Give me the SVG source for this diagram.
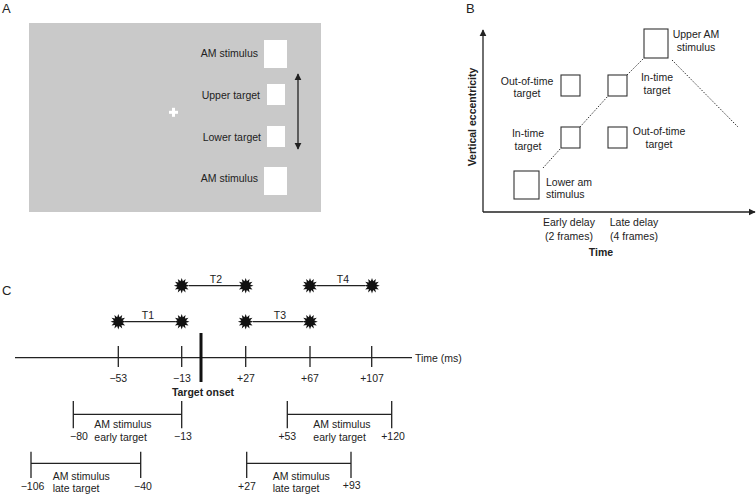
<svg xmlns="http://www.w3.org/2000/svg" width="756" height="495" viewBox="0 0 756 495">
<defs>
<style>
text{font-family:"Liberation Sans",Arial,sans-serif;font-size:10.5px;fill:#222}
.b{font-weight:bold}
.m{text-anchor:middle}
.e{text-anchor:end}
.ln{stroke:#222;stroke-width:1.3;fill:none}
.sq{fill:none;stroke:#333;stroke-width:1.1}
.dot{stroke:#333;stroke-width:1;stroke-dasharray:1.5 1.5;fill:none}
.ws{fill:#fff}
.lbl{font-size:13px}
</style>
<marker id="ah" viewBox="0 0 10 10" refX="9" refY="5" markerWidth="7" markerHeight="9" markerUnits="userSpaceOnUse" orient="auto-start-reverse">
<path d="M0,0 L10,5 L0,10 Z" fill="#222"/>
</marker>
<polygon id="star" fill="#111" points="7.8,0 4.35,1.17 6.75,3.9 3.18,3.18 3.9,6.75 1.17,4.35 0,7.8 -1.17,4.35 -3.9,6.75 -3.18,3.18 -6.75,3.9 -4.35,1.17 -7.8,0 -4.35,-1.17 -6.75,-3.9 -3.18,-3.18 -3.9,-6.75 -1.17,-4.35 0,-7.8 1.17,-4.35 3.9,-6.75 3.18,-3.18 6.75,-3.9 4.35,-1.17"/>
</defs>
<rect width="756" height="495" fill="#fff"/>

<!-- Panel A -->
<g id="panelA">
<text class="lbl" x="2" y="13">A</text>
<rect x="29" y="23" width="292" height="189" fill="#c9c9c9"/>
<g id="a-am-top"><rect class="ws" x="264" y="40" width="23" height="28"/><text class="e" x="258" y="57">AM stimulus</text></g>
<g id="a-upper"><rect class="ws" x="267" y="84" width="18" height="21"/><text class="e" x="260" y="99">Upper target</text></g>
<g id="a-lower"><rect class="ws" x="267" y="126" width="18" height="21"/><text class="e" x="261" y="141">Lower target</text></g>
<g id="a-am-bot"><rect class="ws" x="264" y="167" width="23" height="28"/><text class="e" x="258" y="182">AM stimulus</text></g>
<g id="a-fix"><rect class="ws" x="169" y="110.8" width="9" height="3"/><rect class="ws" x="172" y="107.8" width="3" height="9"/></g>
<line class="ln" x1="298" y1="74" x2="298" y2="149" marker-start="url(#ah)" marker-end="url(#ah)"/>
</g>

<!-- Panel B -->
<g id="panelB">
<text class="lbl" x="466" y="13">B</text>
<g id="b-axes">
<line class="ln" x1="483" y1="212" x2="483" y2="30" marker-end="url(#ah)"/>
<line class="ln" x1="483" y1="212" x2="755" y2="212" marker-end="url(#ah)"/>
</g>
<g id="b-connectors">
<line class="dot" x1="543" y1="168" x2="561" y2="148"/>
<line class="dot" x1="580" y1="127" x2="608" y2="96"/>
<line class="dot" x1="627" y1="75" x2="644" y2="58"/>
<line class="dot" x1="672" y1="60" x2="738" y2="127"/>
</g>
<g id="b-lower-am"><rect class="sq" x="514" y="171" width="25" height="28"/><text x="546" y="186">Lower am</text><text x="546" y="198">stimulus</text></g>
<g id="b-intime-early"><rect class="sq" x="561" y="127" width="19" height="21"/><text class="m" x="528" y="137">In-time</text><text class="m" x="528" y="150">target</text></g>
<g id="b-oot-early"><rect class="sq" x="561" y="75" width="19" height="21"/><text class="m" x="527" y="85">Out-of-time</text><text class="m" x="527" y="97">target</text></g>
<g id="b-intime-late"><rect class="sq" x="608" y="75" width="19" height="21"/><text class="m" x="657" y="81">In-time</text><text class="m" x="657" y="94">target</text></g>
<g id="b-oot-late"><rect class="sq" x="608" y="127" width="19" height="21"/><text class="m" x="659" y="135">Out-of-time</text><text class="m" x="659" y="148">target</text></g>
<g id="b-upper-am"><rect class="sq" x="644" y="29" width="24" height="29"/><text class="m" x="696" y="38">Upper AM</text><text class="m" x="696" y="51">stimulus</text></g>
<text class="m" x="569" y="226">Early delay</text><text class="m" x="569" y="240">(2 frames)</text>
<text class="m" x="634" y="226">Late delay</text><text class="m" x="634" y="240">(4 frames)</text>
<text class="m b" x="601" y="256">Time</text>
<text class="m b" transform="translate(476,117) rotate(-90)">Vertical eccentricity</text>
</g>

<!-- Panel C -->
<g id="panelC">
<text class="lbl" x="2" y="295">C</text>
<g id="c-axis">
<line class="ln" x1="15" y1="357.7" x2="412" y2="357.7"/>
<text x="415" y="361.5">Time (ms)</text>
<line class="ln" x1="118.3" y1="346" x2="118.3" y2="367"/>
<line class="ln" x1="181.7" y1="346" x2="181.7" y2="367"/>
<line class="ln" x1="245.7" y1="346" x2="245.7" y2="367"/>
<line class="ln" x1="310" y1="346" x2="310" y2="367"/>
<line class="ln" x1="371.7" y1="346" x2="371.7" y2="367"/>
<line x1="201" y1="333" x2="201" y2="382" stroke="#111" stroke-width="3"/>
<text class="m" x="118.3" y="382">−53</text>
<text class="m" x="182" y="382">−13</text>
<text class="m" x="246" y="382">+27</text>
<text class="m" x="310" y="382">+67</text>
<text class="m" x="372" y="382">+107</text>
<text class="m b" x="203" y="395.5">Target onset</text>
</g>
<g id="c-T1"><use href="#star" x="118.3" y="321.7"/><use href="#star" x="181.7" y="321.7"/><line class="ln" x1="125" y1="321.7" x2="175" y2="321.7"/><text class="m" x="148" y="318.5">T1</text></g>
<g id="c-T2"><use href="#star" x="181.7" y="285.7"/><use href="#star" x="245.7" y="285.7"/><line class="ln" x1="189" y1="285.7" x2="239" y2="285.7"/><text class="m" x="216" y="282.5">T2</text></g>
<g id="c-T3"><use href="#star" x="245.7" y="321.7"/><use href="#star" x="310" y="321.7"/><line class="ln" x1="253" y1="321.7" x2="303" y2="321.7"/><text class="m" x="280" y="318.5">T3</text></g>
<g id="c-T4"><use href="#star" x="310" y="285.7"/><use href="#star" x="372" y="285.7"/><line class="ln" x1="317" y1="285.7" x2="365" y2="285.7"/><text class="m" x="343" y="282.5">T4</text></g>

<g id="c-early-left">
<path class="ln" d="M73.3,401 V428.3 M73.3,414.3 H181.7 M181.7,401 V428.3"/>
<text class="m" x="79" y="439.5">−80</text><text class="m" x="183" y="439.5">−13</text>
<text x="94.3" y="428">AM stimulus</text><text x="94.3" y="440.5">early target</text>
</g>
<g id="c-early-right">
<path class="ln" d="M287.3,401 V428.3 M287.3,414.3 H391.7 M391.7,401 V428.3"/>
<text class="m" x="287.3" y="439.5">+53</text><text class="m" x="393" y="439.5">+120</text>
<text x="313.3" y="428">AM stimulus</text><text x="313.3" y="440.5">early target</text>
</g>
<g id="c-late-left">
<path class="ln" d="M31,451.7 V478 M31,463.3 H140.7 M140.7,451.7 V478"/>
<text class="m" x="32.5" y="489.5">−106</text><text class="m" x="143" y="489.5">−40</text>
<text x="52.7" y="479.5">AM stimulus</text><text x="52.7" y="492">late target</text>
</g>
<g id="c-late-right">
<path class="ln" d="M246.7,451.7 V478 M246.7,463.3 H351 M351,451.7 V478"/>
<text class="m" x="247" y="489.5">+27</text><text class="m" x="351.7" y="489">+93</text>
<text x="272.7" y="479.5">AM stimulus</text><text x="272.7" y="492">late target</text>
</g>
</g>
</svg>
